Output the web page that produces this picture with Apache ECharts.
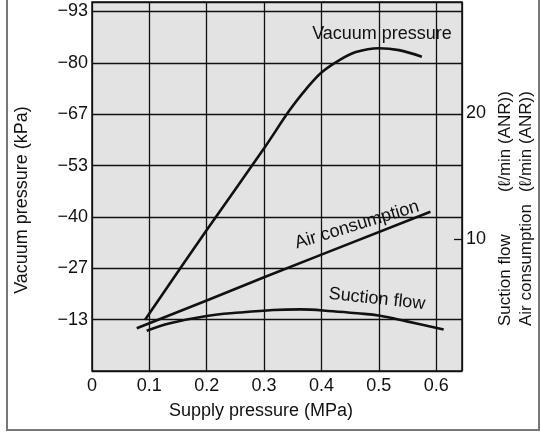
<!DOCTYPE html>
<html>
<head>
<meta charset="utf-8">
<script src="https://cdn.jsdelivr.net/npm/echarts@6/dist/echarts.min.js"></script>
<style>
  html, body { margin: 0; padding: 0; background: #fff; }
  #chart { width: 540px; height: 432px; }
</style>
</head>
<body>
<div id="chart"></div>
<script>
// supply pressure (MPa) vs vacuum pressure (kPa, magnitude)
const vacuumPressure = [
  [0.0925, 13.3], [0.2, 36.6], [0.3, 57.8], [0.345, 67.8], [0.375, 73.5],
  [0.4, 77.5], [0.43, 80.6], [0.46, 82.8], [0.5, 83.8], [0.535, 83.3], [0.575, 81.6]
]
// supply pressure (MPa) vs flow (l/min ANR)
const airConsumption = [
  [0.078, 2.95], [0.2, 5.15], [0.3, 7.0], [0.4, 8.8], [0.59, 12.2]
]
const suctionFlow = [
  [0.0954, 2.75], [0.136, 3.35], [0.2, 3.93], [0.258, 4.2], [0.316, 4.4], [0.363, 4.45],
  [0.42, 4.3], [0.462, 4.14], [0.502, 3.95], [0.549, 3.5], [0.613, 2.85]
]
const flowTicks = [10, 20]

const font = 'Liberation Sans, Arial, sans-serif'
const ink = '#111'

const myChart = echarts.init(document.getElementById('chart'))

const lineStyle = { color: ink, width: 2.6 }

// plain text helper for the annotations
function label(text, x, y, rot, size, align) {
  return {
    type: 'text', x: x, y: y, rotation: rot * Math.PI / 180, z: 100,
    style: { text: text, fill: ink, font: size + 'px ' + font, align: align || 'center', verticalAlign: 'middle' }
  }
}

const options = {
  backgroundColor: '#fff',
  animation: false,
  grid: {
    left: 92, top: 2, right: 78, bottom: 61,
    show: true,
    backgroundColor: '#e3e3e3',
    borderColor: ink,
    borderWidth: 1.5
  },
  xAxis: {
    type: 'value',
    min: 0,
    max: 0.645,
    interval: 0.1,
    axisLine: { show: false },
    axisTick: { show: false },
    axisLabel: {
      color: ink, fontSize: 18, fontFamily: font, margin: 6,
      showMaxLabel: false,
      formatter: v => (v > 0.62 ? '' : (v === 0 ? '0' : v.toFixed(1)))
    },
    splitLine: { show: true, lineStyle: { color: ink, width: 1.3 } }
  },
  yAxis: [
    {
      type: 'value',
      min: 0,
      max: 95.8,
      interval: 40 / 3,
      axisLine: { show: false },
      axisTick: { show: false },
      axisLabel: {
        color: ink, fontSize: 18, fontFamily: font, margin: 4,
        showMaxLabel: false, showMinLabel: false,
        formatter: v => (v > 94 || v === 0 ? '' : '\u2212' + Math.round(v))
      },
      splitLine: { show: true, lineStyle: { color: ink, width: 1.3 } }
    },
    {
      type: 'value',
      position: 'right',
      min: -0.44,
      max: 28.85,
      axisLine: { show: false },
      axisTick: {
        show: true, inside: true, length: 8,
        lineStyle: { color: ink, width: 1.3 },
        customValues: [10]
      },
      axisLabel: {
        color: ink, fontSize: 18, fontFamily: font, margin: 4,
        customValues: flowTicks
      },
      splitLine: { show: false }
    }
  ],
  series: [
    {
      name: 'Vacuum pressure',
      type: 'line',
      yAxisIndex: 0,
      data: vacuumPressure,
      smooth: 0.35,
      showSymbol: false,
      lineStyle: lineStyle
    },
    {
      name: 'Air consumption',
      type: 'line',
      yAxisIndex: 1,
      data: airConsumption,
      smooth: false,
      showSymbol: false,
      lineStyle: lineStyle
    },
    {
      name: 'Suction flow',
      type: 'line',
      yAxisIndex: 1,
      data: suctionFlow,
      smooth: 0.4,
      showSymbol: false,
      lineStyle: lineStyle
    }
  ],
  graphic: [
    // outer frame
    {
      type: 'rect', silent: true, z: 100,
      shape: { x: 7, y: -5, width: 532, height: 435 },
      style: { fill: 'none', stroke: '#777', lineWidth: 2 }
    },
    // axis titles
    label('Supply pressure (MPa)', 261, 411, 0, 18),
    label('Vacuum pressure (kPa)', 22, 200, 90, 18),
    // curve labels
    label('Vacuum pressure', 382, 34, 0, 18),
    label('Air consumption', 357, 225, 17, 18),
    label('Suction flow', 377, 299, -6, 18),
    // right axis titles
    label('Suction flow', 505, 326, 90, 17, 'left'),
    label('Air consumption', 526, 326, 90, 17, 'left'),
    label('(\u2113/min (ANR))', 505, 192, 90, 17, 'left'),
    label('(\u2113/min (ANR))', 526, 192, 90, 17, 'left')
  ]
}

myChart.setOption(options)
</script>
</body>
</html>
